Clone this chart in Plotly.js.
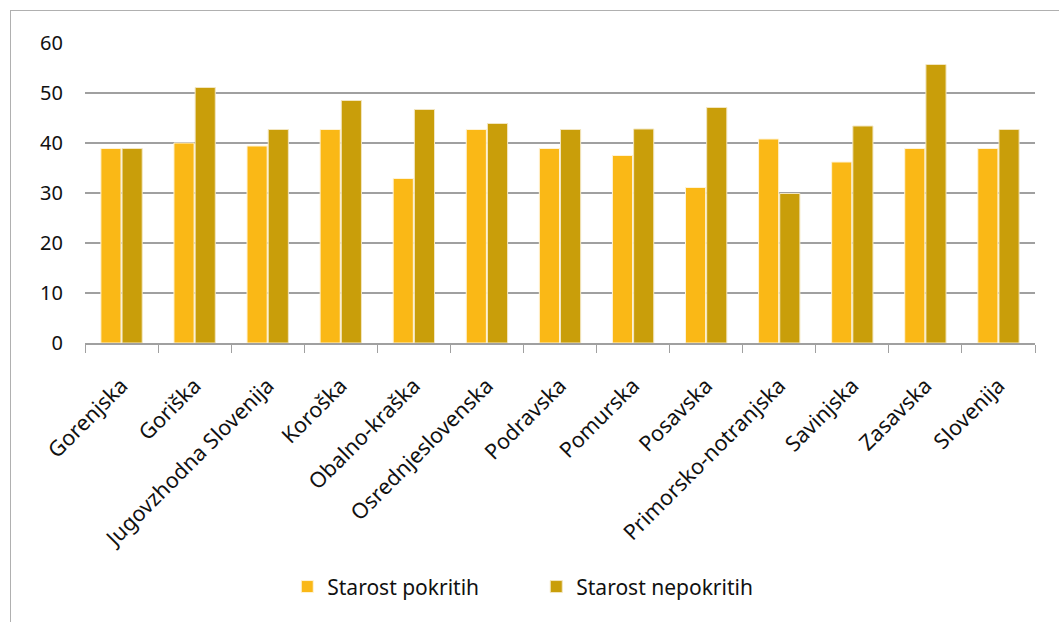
<!DOCTYPE html>
<html>
<head>
<meta charset="utf-8">
<script src="https://cdn.plot.ly/plotly-3.0.1.min.js"></script>
<style>
html,body{margin:0;padding:0;background:#fff;overflow:hidden;}
#frame{position:absolute;left:10px;top:10px;width:1200px;height:800px;border:1px solid #b0b0b0;box-sizing:border-box;pointer-events:none;z-index:5;}
#chart{position:absolute;left:0;top:0;width:1059px;height:622px;}
</style>
</head>
<body>
<div id="chart"></div>
<div id="frame"></div>
<script>
const categories = ["Gorenjska","Goriška","Jugovzhodna Slovenija","Koroška","Obalno-kraška","Osrednjeslovenska","Podravska","Pomurska","Posavska","Primorsko-notranjska","Savinjska","Zasavska","Slovenija"];
const starostPokritih = [38.9, 40.0, 39.4, 42.7, 32.9, 42.7, 38.9, 37.5, 31.1, 40.8, 36.2, 38.9, 38.9];
const starostNepokritih = [38.9, 51.1, 42.7, 48.5, 46.7, 43.9, 42.7, 42.8, 47.1, 29.9, 43.4, 55.7, 42.7];
const seriesNames = ["Starost pokritih", "Starost nepokritih"];
const yTicks = [0, 10, 20, 30, 40, 50, 60];

const FONT = "Noto Sans, Open Sans, sans-serif";
const traces = [
  {type:"bar", name:seriesNames[0], x:categories, y:starostPokritih,
   marker:{color:"#FAB816", line:{color:"#FFF3D6", width:1}}},
  {type:"bar", name:seriesNames[1], x:categories, y:starostNepokritih,
   marker:{color:"#C99E0A", line:{color:"#F3E6C0", width:1}}}
];
const layout = {
  width:1059, height:622,
  margin:{l:85, r:24, t:43, b:279},
  paper_bgcolor:"#fff", plot_bgcolor:"#fff",
  barmode:"group", bargap:0.42, bargroupgap:0.05,
  font:{family:FONT, size:20, color:"#111"},
  showlegend:true,
  legend:{orientation:"h", x:0.475, xanchor:"center", y:-0.813, yanchor:"middle",
          font:{family:FONT, size:21, color:"#111"}, entrywidth:204, itemgap:5,
          itemclick:false},
  xaxis:{type:"category", tickangle:-45, ticks:"outside", tickson:"boundaries",
         ticklen:8, tickcolor:"#a0a0a0", showline:true, linecolor:"#a0a0a0", linewidth:1.5,
         showgrid:false, tickfont:{family:FONT, size:21.5, color:"#111"}, ticklabelstandoff:20},
  yaxis:{range:[0,60], tickvals:yTicks, showgrid:true, gridcolor:"#a0a0a0", gridwidth:1.2,
         zeroline:false, showline:false, ticks:"", ticklabelstandoff:21,
         tickfont:{family:FONT, size:20, color:"#111"}}
};
Plotly.newPlot("chart", traces, layout, {displayModeBar:false, staticPlot:true});
</script>
</body>
</html>
